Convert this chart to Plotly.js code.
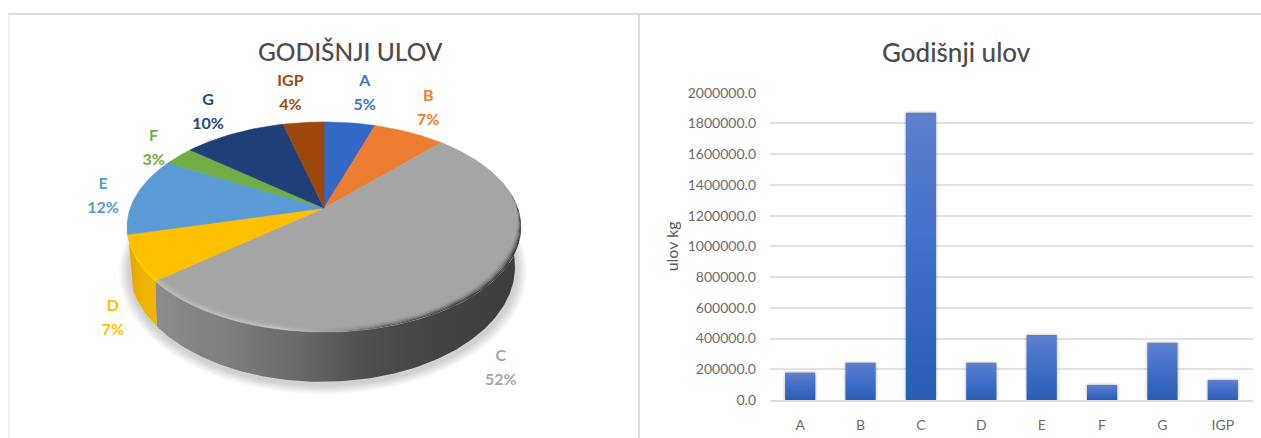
<!DOCTYPE html>
<html>
<head>
<meta charset="utf-8">
<script src="https://cdn.plot.ly/plotly-3.0.1.min.js"></script>
<style>html,body{margin:0;padding:0;background:#fff}#chart{width:1261px;height:438px}</style>
</head>
<body>
<div id="chart"></div>
<script>
// Annual catch per zone
const categories = ['A', 'B', 'C', 'D', 'E', 'F', 'G', 'IGP'];
const catchKg = [178000, 243000, 1870000, 243000, 423000, 98000, 373000, 130000];
const sharePercent = [5, 7, 52, 7, 12, 3, 10, 4];
const sliceColors = ['#3369c4', '#ed7d31', '#a5a5a5', '#ffc000', '#5b9bd5', '#70ad47', '#1f3f78', '#9e480e'];
const labelColors = ['#4472c4', '#ed7d31', '#a5a5a5', '#ffc000', '#5b9bd5', '#70ad47', '#264478', '#9e480e'];
const pieTitle = 'GODIŠNJI ULOV';
const barTitle = 'Godišnji ulov';
const valueAxisTitle = 'ulov kg';

const FONT = 'Lato, "Open Sans", sans-serif';
const W = 1261, H = 438;

// Perspective disk: the pie lives on a pixel-scaled hidden axis pair
const disk = {cx: 324, cy: 208, a: 193.7, h: 101.6, k: 0.181};
const base = {cx: 322, sx: 0.98, sy: 1.095, cy: 246};
const rad = d => d * Math.PI / 180;

function onTop(t, rho = 1) {
  const w = 1 + disk.k * rho * Math.cos(rad(t));
  return [disk.cx + disk.a * rho * Math.sin(rad(t)) / w,
          disk.cy - disk.h * rho * Math.cos(rad(t)) / w];
}
function onBase(t, rho = 1) {
  const w = 1 + disk.k * rho * Math.cos(rad(t));
  return [base.cx + base.sx * disk.a * rho * Math.sin(rad(t)) / w,
          base.cy - base.sy * disk.h * rho * Math.cos(rad(t)) / w];
}
function arc(fn, t0, t1, rho = 1) {
  const n = Math.max(2, Math.ceil(Math.abs(t1 - t0)));
  const pts = [];
  for (let i = 0; i <= n; i++) pts.push(fn(t0 + (t1 - t0) * i / n, rho));
  return pts;
}
function poly(pts, extra) {
  const closed = pts.concat([pts[0]]);
  return Object.assign({
    type: 'scatter', mode: 'lines', xaxis: 'x2', yaxis: 'y2', fill: 'toself',
    x: closed.map(p => p[0]), y: closed.map(p => p[1]),
    line: {width: 0}, hoverinfo: 'skip', showlegend: false
  }, extra);
}

// Slice boundaries in degrees, clockwise from twelve o'clock
const total = sharePercent.reduce((s, v) => s + v, 0);
const edges = [0];
sharePercent.forEach(v => edges.push(edges[edges.length - 1] + v / total * 360));
const iC = categories.indexOf('C'), iD = categories.indexOf('D');

const traces = [];

// Soft ground shadow
for (let i = 6; i >= 1; i--) {
  const rho = 1 + i * 0.009;
  traces.push(poly(arc((t, r) => { const p = onBase(t, r); return [p[0] + 1, p[1] + 3]; }, 0, 360, rho),
    {fillcolor: 'rgba(0,0,0,0.03)'}));
}

// Side wall, shaded from left to right
const wallStops = [[0, '#8c8c8c'], [0.2, '#7e7e7e'], [0.4, '#686868'], [0.55, '#525252'], [0.7, '#464646'], [1, '#3c3c3c']];
traces.push(poly(arc(onTop, 75, edges[iC + 1]).concat(arc(onBase, edges[iC + 1], 75)), {
  fillgradient: {type: 'horizontal', start: 155, stop: 520, colorscale: wallStops}
}));
// The straight side joins the top rim's far point to the base rim's tangent
traces.push(poly(arc(onTop, edges[iD], 262).concat(arc(onBase, 248, edges[iD])), {
  fillgradient: {type: 'horizontal', start: 125, stop: 160,
    colorscale: [[0, '#dba500'], [0.5, '#efb300'], [1, '#f2b600']]}
}));

// Top face
categories.forEach((c, i) => {
  const pts = [[disk.cx, disk.cy]].concat(arc(onTop, edges[i], edges[i + 1]));
  traces.push(poly(pts, {fillcolor: sliceColors[i], line: {width: 0.6, color: sliceColors[i]}, name: c}));
});

// Bevel along the front rim of the largest slice; it tapers away towards the back
const mix = (a, b, f) => Math.round(a + (b - a) * f);
const grey = (v, f) => { const g = mix(165, v, f); return `rgb(${g},${g},${g})`; };
const rimStops = [[0, 190], [0.35, 196], [0.5, 150], [0.62, 90], [0.8, 60], [1, 48]];
const rings = 6, bevelStart = 82;
const taper = (t, rho) => 1 - (1 - rho) * Math.min(1, (t - bevelStart) / 35);
const tapered = (t, rho) => onTop(t, taper(t, rho));
for (let r = 0; r < rings; r++) {
  const r0 = 0.96 + 0.04 * r / rings, r1 = 0.96 + 0.04 * (r + 1) / rings;
  const f = (r + 1) / rings;
  traces.push(poly(arc(tapered, bevelStart, edges[iC + 1], r0).concat(arc(tapered, edges[iC + 1], bevelStart, r1)), {
    fillgradient: {type: 'horizontal', start: 155, stop: 521,
      colorscale: rimStops.map(s => [s[0], grey(s[1], f * f)])}
  }));
}
// Brighter edge on the yellow slice, narrowing to nothing at the far side
const goldEdgeEnd = edges[iD + 1] - 2;
const goldInner = t => onTop(t, 1 - 0.018 * (goldEdgeEnd - t) / (goldEdgeEnd - edges[iD]));
traces.push(poly(arc(goldInner, edges[iD], goldEdgeEnd).concat(arc(onTop, goldEdgeEnd, edges[iD])),
  {fillcolor: '#ffcf00'}));

// Slice labels, offset from the middle of each slice's rim
const labelOffset = [[15, -29], [19, -23], [24, 76], [-23, 61], [-33, 1], [-25, -7], [-26, -21], [-13, -29]];
const mids = categories.map((c, i) => onTop((edges[i] + edges[i + 1]) / 2));
const lineGap = 12;
const labelTrace = (text, dy) => ({
  type: 'scatter', mode: 'text', xaxis: 'x2', yaxis: 'y2',
  x: mids.map((m, i) => m[0] + labelOffset[i][0]),
  y: mids.map((m, i) => m[1] + labelOffset[i][1] + dy),
  text, textposition: 'middle center',
  textfont: {family: FONT, size: 16, color: labelColors, weight: 700},
  hoverinfo: 'skip', showlegend: false
});
traces.push(labelTrace(categories, -lineGap));
traces.push(labelTrace(sharePercent.map(v => v + '%'), lineGap));

// Column chart
traces.push({
  type: 'bar', x: categories, y: catchKg, xaxis: 'x', yaxis: 'y',
  marker: {color: '#3f6fc6', line: {width: 0}}, hoverinfo: 'skip', showlegend: false
});

const panelLine = '#dcdcdc';
const panelShape = (x0, y0, x1, y1, width, color) => ({
  type: 'line', xref: 'paper', yref: 'paper',
  x0: x0 / W, x1: x1 / W, y0: 1 - y0 / H, y1: 1 - y1 / H,
  line: {color: color, width: width}, layer: 'below'
});

const layout = {
  width: W, height: H, margin: {l: 0, r: 0, t: 0, b: 0},
  paper_bgcolor: '#fff', plot_bgcolor: 'rgba(0,0,0,0)',
  showlegend: false, bargap: 0.5,
  xaxis: {
    domain: [770 / W, 1253 / W], type: 'category', range: [-0.5, 7.5], anchor: 'y',
    showgrid: false, showline: true, linecolor: '#dedede', linewidth: 2, ticks: '', zeroline: false,
    tickfont: {family: FONT, size: 14, color: '#6b6b6b'}, ticklabelstandoff: 11
  },
  yaxis: {
    domain: [(H - 400) / H, (H - 92.7) / H], range: [0, 2000000], dtick: 200000, anchor: 'x',
    tickformat: '.1f', showgrid: true, gridcolor: '#e2e2e2', gridwidth: 2, zeroline: false, ticks: '',
    showline: false, ticklabelstandoff: 13,
    tickfont: {family: FONT, size: 14, color: '#6b6b6b'},
    title: {text: valueAxisTitle, font: {family: FONT, size: 16, color: '#595959'}, standoff: 5}
  },
  xaxis2: {domain: [0, 640 / W], range: [0, 640], visible: false, anchor: 'y2', fixedrange: true},
  yaxis2: {domain: [0, 1], range: [H, 0], visible: false, anchor: 'x2', fixedrange: true},
  shapes: [
    panelShape(8, 14, W, 14, 2, panelLine),
    panelShape(9, 14, 9, H, 1.5, '#ececec'),
    panelShape(639, 14, 639, H, 2, panelLine)
  ],
  annotations: [
    {text: pieTitle, xref: 'paper', yref: 'paper', x: 350 / W, y: 1 - 51 / H, showarrow: false,
     xanchor: 'center', yanchor: 'middle', font: {family: FONT, size: 24.5, color: '#4c4c4c', weight: 500}},
    {text: barTitle, xref: 'paper', yref: 'paper', x: 956 / W, y: 1 - 52 / H, showarrow: false,
     xanchor: 'center', yanchor: 'middle', font: {family: FONT, size: 26, color: '#4c4c4c', weight: 500}}
  ]
};

Plotly.newPlot('chart', traces, layout, {staticPlot: true, displayModeBar: false}).then(gd => {
  // Columns fade from a lighter top to a deeper foot, with a faint drop shadow
  const svg = gd.querySelector('.main-svg');
  const ns = 'http://www.w3.org/2000/svg';
  const defs = svg.querySelector('defs') || svg.insertBefore(document.createElementNS(ns, 'defs'), svg.firstChild);
  const grad = document.createElementNS(ns, 'linearGradient');
  grad.setAttribute('id', 'columnFade');
  grad.setAttribute('x1', '0'); grad.setAttribute('x2', '0');
  grad.setAttribute('y1', '0'); grad.setAttribute('y2', '1');
  [['0', '#5f80ce'], ['0.5', '#3f6ec8'], ['1', '#2a5cb6']].forEach(([o, c]) => {
    const s = document.createElementNS(ns, 'stop');
    s.setAttribute('offset', o); s.setAttribute('stop-color', c);
    grad.appendChild(s);
  });
  defs.appendChild(grad);
  gd.querySelectorAll('.barlayer .point path').forEach(p => {
    p.style.fill = 'url(#columnFade)';
    p.style.filter = 'drop-shadow(0 0 1.5px rgba(0,0,0,0.35))';
  });
});
</script>
</body>
</html>
